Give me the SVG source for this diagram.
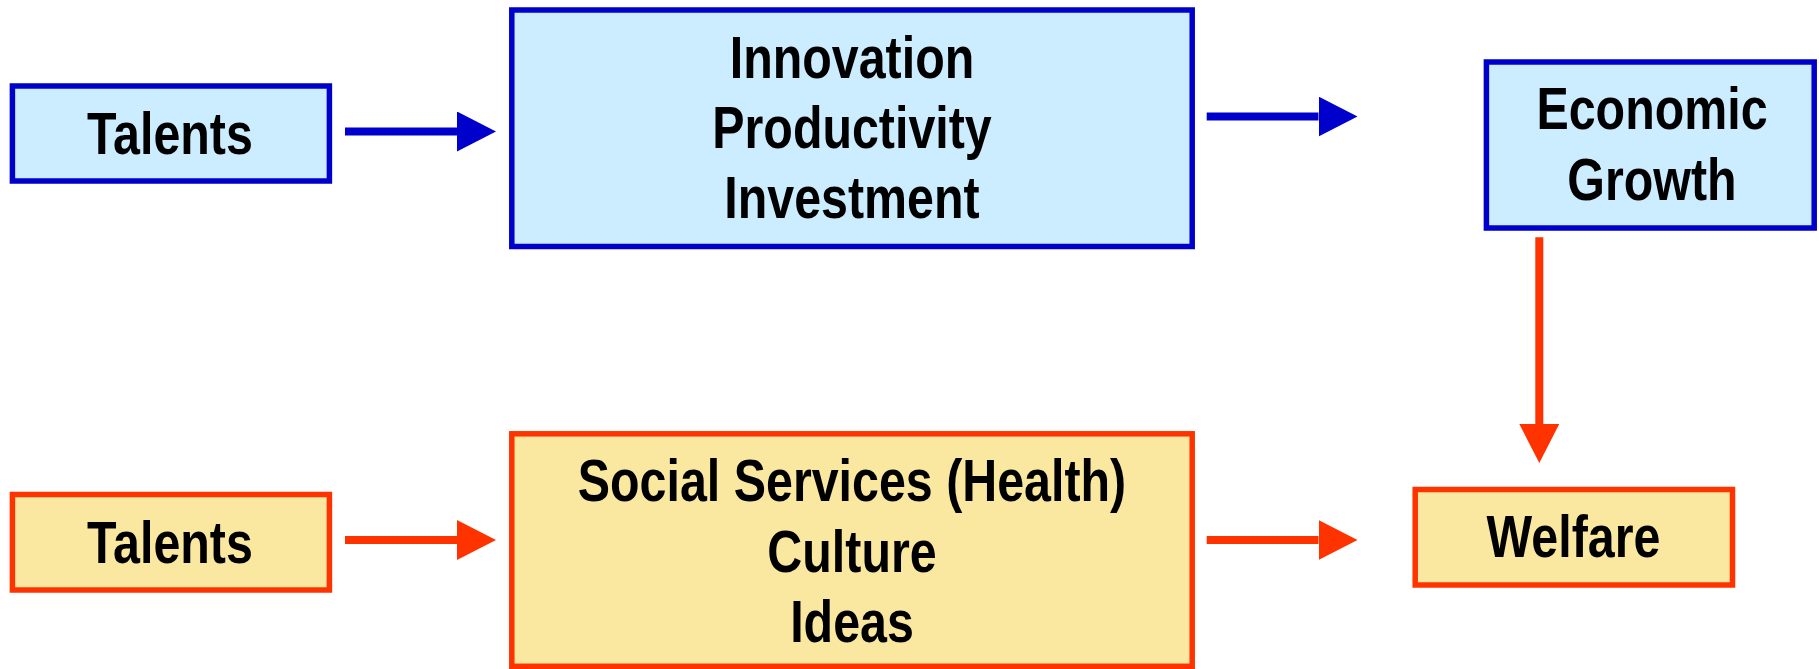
<svg xmlns="http://www.w3.org/2000/svg" width="1819" height="669" viewBox="0 0 1819 669">
  <style>
    .econ { fill: #CCECFF; stroke: #0000CC; stroke-width: 5.5; }
    .soc { fill: #FAE8A0; stroke: #FF3300; stroke-width: 5.5; }
    .lbl { font-family: "Liberation Sans", Arial, sans-serif; font-weight: bold; font-size: 59px; fill: #000; text-anchor: middle; }
    .wire-b { stroke: #0000CC; stroke-width: 8; fill: none; }
    .wire-r { stroke: #FF3300; stroke-width: 8; fill: none; }
  </style>
  <defs>
    <marker id="head-b" markerUnits="userSpaceOnUse" viewBox="0 0 39 40" refX="0" refY="20" markerWidth="39" markerHeight="40" orient="auto">
      <path d="M0,0 L39,20 L0,40 Z" fill="#0000CC"/>
    </marker>
    <marker id="head-r" markerUnits="userSpaceOnUse" viewBox="0 0 39 40" refX="0" refY="20" markerWidth="39" markerHeight="40" orient="auto">
      <path d="M0,0 L39,20 L0,40 Z" fill="#FF3300"/>
    </marker>
  </defs>

  <rect width="1819" height="669" fill="#FFFFFF"/>

  <!-- connectors -->
  <g id="connectors">
    <path class="wire-b" d="M345,131.5 H457" marker-end="url(#head-b)"/>
    <path class="wire-b" d="M1206.7,116.5 H1318.5" marker-end="url(#head-b)"/>
    <path class="wire-r" d="M1539.3,237.3 V424" marker-end="url(#head-r)"/>
    <path class="wire-r" d="M345,540 H457" marker-end="url(#head-r)"/>
    <path class="wire-r" d="M1206.7,540 H1318.5" marker-end="url(#head-r)"/>
  </g>

  <!-- economic chain -->
  <g id="talents-econ">
    <rect class="econ" x="12.4" y="86" width="317" height="95"/>
    <text class="lbl" transform="translate(170,154) scale(0.82,1)">Talents</text>
  </g>
  <g id="innovation">
    <rect class="econ" x="511.8" y="10" width="680.4" height="236.5"/>
    <text class="lbl" transform="translate(852,77.7) scale(0.82,1)">Innovation</text>
    <text class="lbl" transform="translate(852,148.3) scale(0.82,1)">Productivity</text>
    <text class="lbl" transform="translate(852,218.3) scale(0.82,1)">Investment</text>
  </g>
  <g id="economic-growth">
    <rect class="econ" x="1486.4" y="62" width="327.8" height="166"/>
    <text class="lbl" transform="translate(1652,129.3) scale(0.82,1)">Economic</text>
    <text class="lbl" transform="translate(1652,200) scale(0.82,1)">Growth</text>
  </g>

  <!-- social chain -->
  <g id="talents-social">
    <rect class="soc" x="12.4" y="494.5" width="317" height="95.5"/>
    <text class="lbl" transform="translate(170,562.7) scale(0.82,1)">Talents</text>
  </g>
  <g id="social-services">
    <rect class="soc" x="511.8" y="433.8" width="680.4" height="232.5"/>
    <text class="lbl" transform="translate(852,501) scale(0.82,1)">Social Services (Health)</text>
    <text class="lbl" transform="translate(852,571.7) scale(0.82,1)">Culture</text>
    <text class="lbl" transform="translate(852,641.7) scale(0.82,1)">Ideas</text>
  </g>
  <g id="welfare">
    <rect class="soc" x="1415.2" y="489.5" width="317.3" height="95.5"/>
    <text class="lbl" transform="translate(1573.5,556.7) scale(0.82,1)">Welfare</text>
  </g>
</svg>
